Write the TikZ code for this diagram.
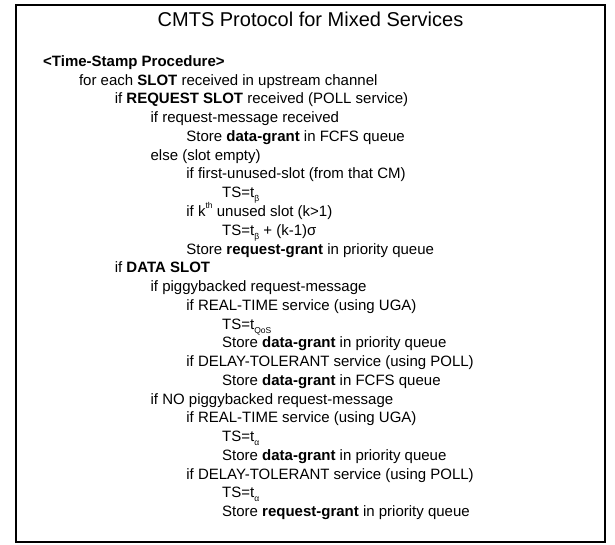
\documentclass[tikz,border=0pt]{standalone}
\usepackage{fontspec}
\setmainfont{Liberation Sans}
% small lowered / raised indices for time stamps and ordinals
\newcommand\lowidx[1]{\raisebox{-0.28em}{\fontsize{8.5bp}{9bp}\selectfont #1}}
\newcommand\highidx[1]{\raisebox{0.55em}{\fontsize{8.5bp}{9bp}\selectfont #1}}
\begin{document}
\begin{tikzpicture}[x=1bp,y=-1bp,
  body/.style={anchor=base west,inner sep=0pt,font=\fontsize{15bp}{18bp}\selectfont},
  heading/.style={anchor=base,inner sep=0pt,font=\fontsize{20bp}{24bp}\selectfont},
  frame/.style={draw=black,line width=1.4bp}]
\useasboundingbox (0,0) rectangle (615,545);
\draw[frame] (16,5) rectangle (605,542);
\node[heading] (title) at (310.5,27) {CMTS Protocol for Mixed Services};
% indentation levels: 43, 78.8, 114.6, 150.4, 186.2, 222
% baselines: 66.5 + 18.75 n
\node[body] (l0)  at (43,66.5)     {\textbf{<Time-Stamp Procedure>}};
\node[body] (l1)  at (78.8,85.25)  {for each \textbf{SLOT} received in upstream channel};
\node[body] (l2)  at (114.6,104.0) {if \textbf{REQUEST SLOT} received (POLL service)};
\node[body] (l3)  at (150.4,122.75){if request-message received};
\node[body] (l4)  at (186.2,141.5) {Store \textbf{data-grant} in FCFS queue};
\node[body] (l5)  at (150.4,160.25){else (slot empty)};
\node[body] (l6)  at (186.2,179.0) {if first-unused-slot (from that CM)};
\node[body] (l7)  at (222,197.75)  {TS=t\lowidx{β}};
\node[body] (l8)  at (186.2,216.5) {if k\highidx{th} unused slot (k>1)};
\node[body] (l9)  at (222,235.25)  {TS=t\lowidx{β} + (k-1)σ};
\node[body] (l10) at (186.2,254.0) {Store \textbf{request-grant} in priority queue};
\node[body] (l11) at (114.6,272.75){if \textbf{DATA SLOT}};
\node[body] (l12) at (150.4,291.5) {if piggybacked request-message};
\node[body] (l13) at (186.2,310.25){if REAL-TIME service (using UGA)};
\node[body] (l14) at (222,329.0)   {TS=t\lowidx{QoS}};
\node[body] (l15) at (222,347.75)  {Store \textbf{data-grant} in priority queue};
\node[body] (l16) at (186.2,366.5) {if DELAY-TOLERANT service (using POLL)};
\node[body] (l17) at (222,385.25)  {Store \textbf{data-grant} in FCFS queue};
\node[body] (l18) at (150.4,404.0) {if NO piggybacked request-message};
\node[body] (l19) at (186.2,422.75){if REAL-TIME service (using UGA)};
\node[body] (l20) at (222,441.5)   {TS=t\lowidx{α}};
\node[body] (l21) at (222,460.25)  {Store \textbf{data-grant} in priority queue};
\node[body] (l22) at (186.2,479.0) {if DELAY-TOLERANT service (using POLL)};
\node[body] (l23) at (222,497.75)  {TS=t\lowidx{α}};
\node[body] (l24) at (222,516.5)   {Store \textbf{request-grant} in priority queue};
\end{tikzpicture}
\end{document}
